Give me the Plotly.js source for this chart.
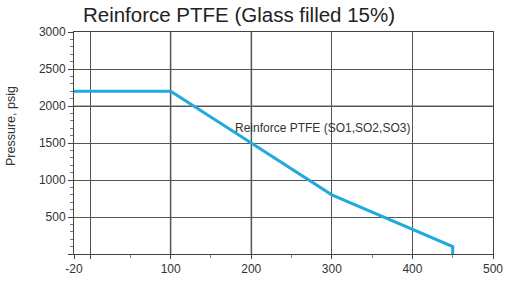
<!DOCTYPE html>
<html>
<head>
<meta charset="utf-8">
<script src="https://cdn.plot.ly/plotly-3.0.1.min.js"></script>
<style>html,body{margin:0;padding:0;background:#fff;}#chart{width:506px;height:281px;}</style>
</head>
<body>
<div id="chart"></div>
<script>
const temperatures = [-20, 100, 200, 300, 450, 450];
const pressures = [2200, 2200, 1500, 800, 100, 0];
const xTickVals = [-20, 0, 100, 200, 300, 400, 500];
const xTickText = ['-20', '', '100', '200', '300', '400', '500'];
const yTickVals = [0, 500, 1000, 1500, 2000, 2500, 3000];
const yTickText = ['', '500', '1000', '1500', '2000', '2500', '3000'];
const seriesLabel = 'Reinforce PTFE (SO1,SO2,SO3)';
const chartTitle = 'Reinforce PTFE (Glass filled 15%)';
const yTitle = 'Pressure, psig';

const font = 'Liberation Sans, Arial, sans-serif';
const trace = {
  x: temperatures, y: pressures, type: 'scatter', mode: 'lines',
  line: {color: '#22a9de', width: 3}, hoverinfo: 'skip', showlegend: false
};
const layout = {
  width: 506, height: 281,
  margin: {l: 74, r: 13, t: 32, b: 27},
  paper_bgcolor: '#fff', plot_bgcolor: '#fff',
  font: {family: font, color: '#333', size: 12},
  title: {text: chartTitle, font: {family: font, size: 20.5, color: '#222'},
          x: 239/506, xref: 'container', xanchor: 'center', y: 1 - 15/281, yref: 'container', yanchor: 'middle'},
  xaxis: {range: [-20, 500], tickmode: 'array', tickvals: xTickVals, ticktext: xTickText,
          ticks: 'outside', ticklen: 4, tickcolor: '#444', showgrid: true, gridcolor: '#555', gridwidth: 1,
          showline: true, linecolor: '#444', linewidth: 1, mirror: true, zeroline: false,
          tickfont: {size: 12, color: '#333'},
          minor: {tick0: 50, dtick: 100, ticks: 'outside', ticklen: 3, tickcolor: '#888', showgrid: false}},
  yaxis: {range: [0, 3000], tickmode: 'array', tickvals: yTickVals, ticktext: yTickText,
          ticks: 'outside', ticklen: 5, tickcolor: '#444', showgrid: true, gridcolor: '#555', gridwidth: 1,
          showline: true, linecolor: '#444', linewidth: 1, mirror: true, zeroline: false,
          tickfont: {size: 12, color: '#333'},
          minor: {dtick: 100, ticks: 'outside', ticklen: 3, tickcolor: '#777', showgrid: false}},
  shapes: [
    {type: 'line', xref: 'x', yref: 'paper', x0: 100, x1: 100, y0: 0, y1: 1, layer: 'between', line: {color: '#a8a8a8', width: 2}},
    {type: 'line', xref: 'x', yref: 'paper', x0: 200, x1: 200, y0: 0, y1: 1, layer: 'between', line: {color: '#a8a8a8', width: 2}},
    {type: 'line', xref: 'paper', yref: 'y', x0: 0, x1: 1, y0: 2000, y1: 2000, layer: 'between', line: {color: '#b0b0b0', width: 2}}
  ],
  annotations: [
    {text: seriesLabel, x: 289, y: 1700, xref: 'x', yref: 'y', showarrow: false,
     font: {family: font, size: 12, color: '#333'}, xanchor: 'center', yanchor: 'middle'},
    {text: yTitle, xref: 'paper', yref: 'paper', x: (11 - 74) / 419, y: (254 - 126) / 222,
     textangle: -90, showarrow: false, font: {family: font, size: 12.5, color: '#333'},
     xanchor: 'center', yanchor: 'middle'}
  ]
};
Plotly.newPlot('chart', [trace], layout, {staticPlot: true, displayModeBar: false});
</script>
</body>
</html>
